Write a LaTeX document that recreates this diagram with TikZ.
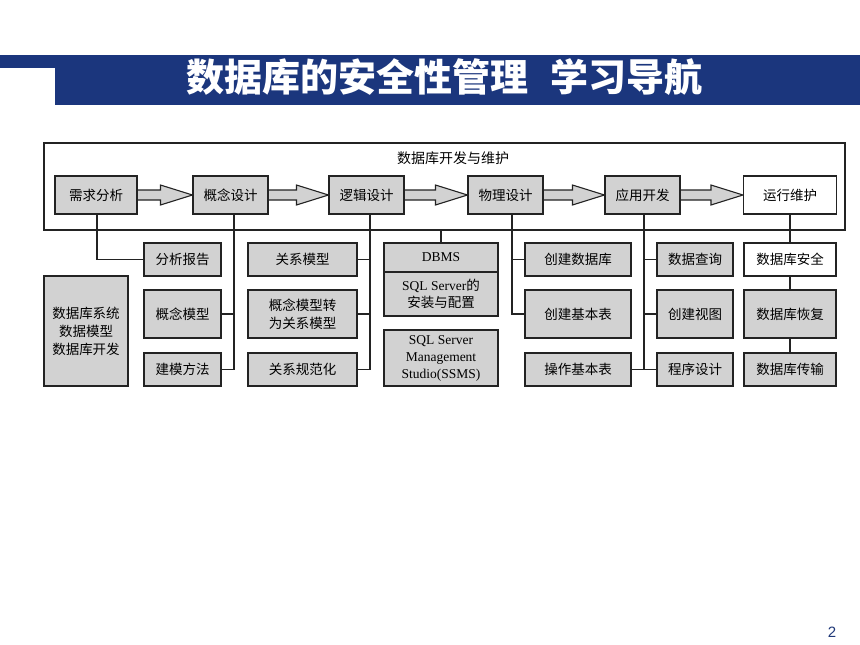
\documentclass[tikz,border=0pt]{standalone}
\usepackage{fontspec}
\setmainfont{Liberation Serif}
\newfontfamily\cjk{Noto Sans CJK SC}
\newfontfamily\pgnum{Liberation Sans}
\usetikzlibrary{calc,backgrounds}
\definecolor{bandblue}{RGB}{27,54,125}
\definecolor{boxgray}{RGB}{210,210,210}
\definecolor{linegray}{RGB}{35,35,35}
\definecolor{pgblue}{RGB}{31,56,120}
\tikzset{
 box/.style={draw=linegray, line width=1.1pt, fill=boxgray, inner sep=0pt, align=center,
   font=\fontsize{13.5}{18}\selectfont\cjk},
 wbox/.style={box, fill=white},
 conn/.style={draw=linegray, line width=1.1pt},
 barrow/.style={draw=linegray, line width=1.1pt, fill=boxgray, line join=miter},
 rowA/.style={minimum height=33},
 rowB/.style={minimum height=48},
 rowC/.style={minimum height=33},
}
\newcommand\barr[2]{%
 \filldraw[barrow] ($(#1.east)+(0,-5)$) -- ($(#2.west)+(-32,-5)$) -- ($(#2.west)+(-32,-10)$)
   -- (#2.west) -- ($(#2.west)+(-32,10)$) -- ($(#2.west)+(-32,5)$) -- ($(#1.east)+(0,5)$);}
\begin{document}
\begin{tikzpicture}[x=1pt,y=-1pt]
\useasboundingbox (0,0) rectangle (860,645);
% title band
\fill[bandblue] (55,55) rectangle (860,105);
\fill[bandblue] (0,55) rectangle (55,67.5);
\node[font=\fontsize{38}{40}\selectfont\cjk\bfseries, text=white] (title) at (444.5,77) {数据库的安全性管理\hspace{22pt}学习导航};
% frame
\node[draw=linegray, line width=1.4pt, minimum width=801, minimum height=87, inner sep=0pt] (frame) at (444.5,186.5) {};
\node[font=\fontsize{14}{18}\selectfont\cjk] (flabel) at (453,158) {数据库开发与维护};
% top row
\node[box, minimum width=82, minimum height=38] (n1) at (96,195) {需求分析};
\node[box, minimum width=75, minimum height=38] (n2) at (230.5,195) {概念设计};
\node[box, minimum width=75, minimum height=38] (n3) at (366.5,195) {逻辑设计};
\node[box, minimum width=75, minimum height=38] (n4) at (505.5,195) {物理设计};
\node[box, minimum width=75, minimum height=38] (n5) at (642.5,195) {应用开发};
\node[wbox, minimum width=93, minimum height=38] (n6) at (790,195) {运行维护};
\begin{pgfonlayer}{background}
\barr{n1}{n2}
\barr{n2}{n3}
\barr{n3}{n4}
\barr{n4}{n5}
\barr{n5}{n6}
\end{pgfonlayer}
% left box
\node[box, minimum width=84, minimum height=110] (left) at (86,331) {数据库系统\\数据模型\\数据库开发};
% column 1
\node[box, rowA, minimum width=77] (fxbg) at (182.5,259.5) {分析报告};
\node[box, rowB, minimum width=77] (gnmx) at (182.5,314) {概念模型};
\node[box, rowC, minimum width=77] (jmff) at (182.5,369.5) {建模方法};
% column 2
\node[box, rowA, minimum width=109] (gxmx) at (302.5,259.5) {关系模型};
\node[box, rowB, minimum width=109] (zh) at (302.5,314) {概念模型转\\为关系模型};
\node[box, rowC, minimum width=109] (gxgf) at (302.5,369.5) {关系规范化};
% column 3
\node[box, minimum width=114, minimum height=29] (dbms) at (441,257.5) {\rmfamily DBMS};
\node[box, minimum width=114, minimum height=44, font=\fontsize{13.5}{17}\selectfont\cjk] (sqlcfg) at (441,294) {{\rmfamily SQL Server}的\\安装与配置};
\node[box, minimum width=114, minimum height=56, font=\fontsize{13.5}{17}\selectfont\rmfamily] (ssms) at (441,358) {SQL Server\\Management\\Studio(SSMS)};
% column 4
\node[box, rowA, minimum width=106] (cjsjk) at (578,259.5) {创建数据库};
\node[box, rowB, minimum width=106] (cjjbb) at (578,314) {创建基本表};
\node[box, rowC, minimum width=106] (czjbb) at (578,369.5) {操作基本表};
% column 5
\node[box, rowA, minimum width=76] (sjcx) at (695,259.5) {数据查询};
\node[box, rowB, minimum width=76] (cjst) at (695,314) {创建视图};
\node[box, rowC, minimum width=76] (cxsj) at (695,369.5) {程序设计};
% column 6
\node[wbox, rowA, minimum width=92] (aq) at (790,259.5) {数据库安全};
\node[box, rowB, minimum width=92] (hf) at (790,314) {数据库恢复};
\node[box, rowC, minimum width=92] (cs) at (790,369.5) {数据库传输};
% connectors
\coordinate (v1) at (97,0);
\coordinate (v2) at (234,0);
\coordinate (v3) at (370,0);
\coordinate (v4) at (512,0);
\coordinate (v5) at (644,0);
\draw[conn] (v1 |- n1.south) |- (fxbg.west);
\draw[conn] (v2 |- n2.south) |- (jmff.east);
\draw[conn] (gnmx.east) -- (v2 |- gnmx.east);
\draw[conn] (v3 |- n3.south) |- (gxgf.east);
\draw[conn] (gxmx.east) -- (v3 |- gxmx.east);
\draw[conn] (zh.east) -- (v3 |- zh.east);
\draw[conn] (dbms.north) -- (dbms.north |- frame.south);
\draw[conn] (v4 |- n4.south) |- (cjjbb.west);
\draw[conn] (v4 |- cjsjk.west) -- (cjsjk.west);
\draw[conn] (v5 |- n5.south) |- (cxsj.west);
\draw[conn] (v5 |- sjcx.west) -- (sjcx.west);
\draw[conn] (v5 |- cjst.west) -- (cjst.west);
\draw[conn] (czjbb.east) -- (v5 |- czjbb.east);
\draw[conn] (n6.south) -- (aq.north);
\draw[conn] (aq.south) -- (hf.north);
\draw[conn] (hf.south) -- (cs.north);
% page number
\node[font=\fontsize{15}{18}\selectfont\pgnum, text=pgblue] (pg) at (832,632) {2};
\end{tikzpicture}
\end{document}
